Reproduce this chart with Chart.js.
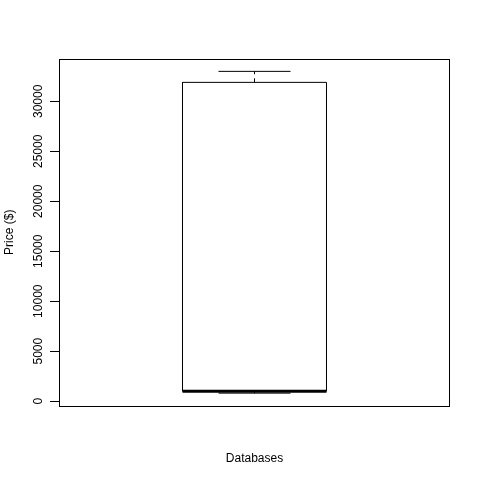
<!DOCTYPE html>
<html>
<head>
<meta charset="utf-8">
<script src="https://cdn.jsdelivr.net/npm/chart.js@4"></script>
<style>
html,body{margin:0;padding:0;background:#fff;}
canvas{display:block;}
</style>
</head>
<body>
<canvas id="c" width="480" height="480"></canvas>
<script>
// ---- data ----
const categories = ['Databases'];
const lowerWhisker = [800];
const q1 = [1000];
const median = [1000];
const q3 = [31900];
const upperWhisker = [33000];
const yTicks = [0, 5000, 10000, 15000, 20000, 25000, 30000];
const yTitle = 'Price ($)';
const xTitle = 'Databases';

// ---- build box-plot geometry in data space ----
const boxHalf = 0.18414, capHalf = 0.0921;
const datasets = [];
categories.forEach((c, i) => {
  const x = i + 1;
  const line = (pts, extra) => Object.assign({
    data: pts, showLine: true, pointRadius: 0, borderColor: '#000',
    borderWidth: 1, fill: false, tension: 0
  }, extra || {});
  // box
  datasets.push(line([
    {x: x - boxHalf, y: q1[i]}, {x: x + boxHalf, y: q1[i]},
    {x: x + boxHalf, y: q3[i]}, {x: x - boxHalf, y: q3[i]},
    {x: x - boxHalf, y: q1[i]}
  ]));
  // whiskers (dashed)
  datasets.push(line([{x: x, y: q3[i]}, {x: x, y: upperWhisker[i]}], {borderDash: [4, 4]}));
  datasets.push(line([{x: x, y: q1[i]}, {x: x, y: lowerWhisker[i]}], {borderDash: [4, 4]}));
  // caps
  datasets.push(line([{x: x - capHalf, y: upperWhisker[i]}, {x: x + capHalf, y: upperWhisker[i]}]));
  datasets.push(line([{x: x - capHalf, y: lowerWhisker[i]}, {x: x + capHalf, y: lowerWhisker[i]}]));
  // median (thick)
  datasets.push(line([{x: x - boxHalf, y: median[i]}, {x: x + boxHalf, y: median[i]}], {borderWidth: 3, borderCapStyle: 'butt'}));
});

// R-style axis range: data range extended by 4%
const allVals = [].concat(lowerWhisker, upperWhisker);
const dMin = Math.min.apply(null, allVals), dMax = Math.max.apply(null, allVals);
const ext = (dMax - dMin) * 0.04;

const FONT = 'Arial, "Liberation Sans", sans-serif';

const rFrame = {
  id: 'rFrame',
  afterDraw(chart) {
    const ctx = chart.ctx, a = chart.chartArea, ys = chart.scales.y;
    ctx.save();
    ctx.strokeStyle = '#000';
    ctx.lineWidth = 1;
    ctx.strokeRect(59.5, 59.5, 390, 347);
    // rotated tick labels
    ctx.fillStyle = '#000';
    ctx.font = '12px ' + FONT;
    ctx.textAlign = 'center';
    ctx.textBaseline = 'alphabetic';
    ys.ticks.forEach(t => {
      const py = ys.getPixelForValue(t.value);
      ctx.save();
      ctx.translate(42, py);
      ctx.rotate(-Math.PI / 2);
      ctx.fillText(String(t.value), 0, 0);
      ctx.restore();
    });
    ctx.restore();
  }
};

new Chart(document.getElementById('c'), {
  type: 'scatter',
  data: { datasets },
  options: {
    responsive: false,
    animation: false,
    events: [],
    layout: { padding: { top: 58.5, right: 30, left: 0, bottom: 0 } },
    plugins: { legend: { display: false }, tooltip: { enabled: false } },
    scales: {
      x: {
        type: 'linear', min: 0.5, max: 1.5,
        ticks: { display: false },
        grid: { display: false },
        border: { display: false },
        title: { display: true, text: xTitle, color: '#000',
                 font: { family: FONT, size: 12 }, padding: { top: 0, bottom: 14 } },
        afterFit(s) { s.height = 74; }
      },
      y: {
        type: 'linear', min: dMin - ext, max: dMax + ext,
        afterBuildTicks(s) { s.ticks = yTicks.map(v => ({ value: v })); },
        ticks: { display: false },
        grid: { drawOnChartArea: false, drawTicks: true, tickLength: 9, color: '#000', lineWidth: 1 },
        border: { display: false },
        title: { display: true, text: yTitle, color: '#000',
                 font: { family: FONT, size: 12 }, padding: { top: 2, bottom: 0 } },
        afterFit(s) { s.width = 59; }
      }
    }
  },
  plugins: [rFrame]
});
</script>
</body>
</html>
